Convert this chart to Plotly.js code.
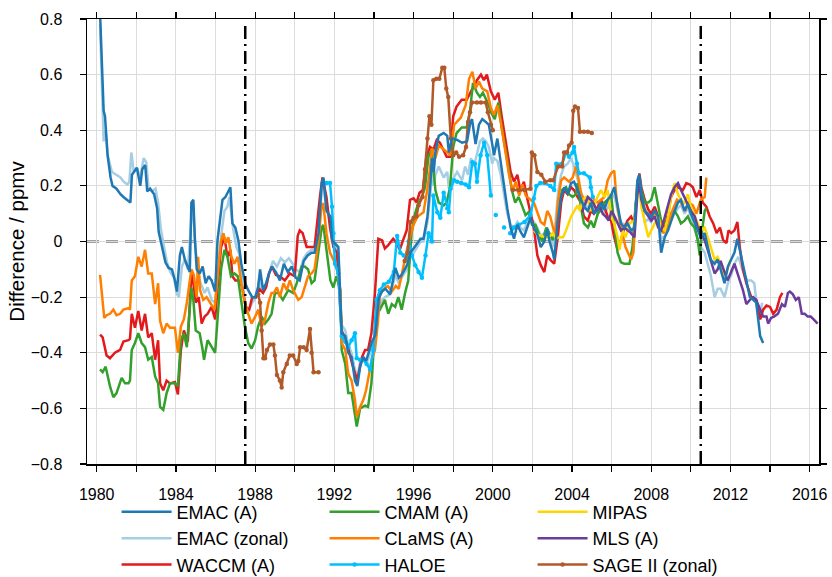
<!DOCTYPE html>
<html>
<head>
<meta charset="utf-8">
<script src="https://cdn.plot.ly/plotly-3.0.1.min.js"></script>
<style>html,body{margin:0;padding:0;background:#fff}#chart{width:832px;height:577px}</style>
</head>
<body>
<div id="chart"></div>
<script>
// ---- data (difference / ppmv) ----
const xTickVals = [1980,1982,1984,1986,1988,1990,1992,1994,1996,1998,2000,2002,2004,2006,2008,2010,2012,2014,2016];
const xTickText = ['1980','','1984','','1988','','1992','','1996','','2000','','2004','','2008','','2012','','2016'];
const yTickVals = [-0.8,-0.6,-0.4,-0.2,0,0.2,0.4,0.6,0.8];
const breakYears = [1987.5, 2010.5];

const emacA_years = [1980.17,1980.3,1980.35,1980.42,1980.55,1980.7,1980.8,1981.0,1981.2,1981.35,1981.5,1981.7,1981.78,1981.9,1982.03,1982.2,1982.3,1982.45,1982.55,1982.7,1982.9,1983.05,1983.13,1983.3,1983.47,1983.63,1983.8,1983.95,1984.05,1984.2,1984.3,1984.45,1984.6,1984.7,1984.78,1984.88,1984.96,1985.05,1985.2,1985.35,1985.5,1985.65,1985.8,1985.98,1986.1,1986.25,1986.35,1986.5,1986.65,1986.75,1986.85,1987.0,1987.15,1987.3,1987.5,1987.65,1987.85,1988.0,1988.15,1988.25,1988.4,1988.55,1988.7,1988.85,1989.05,1989.25,1989.45,1989.65,1989.85,1990.05,1990.25,1990.45,1990.65,1990.85,1991.0,1991.2,1991.36,1991.45,1991.6,1991.8,1991.88,1992.03,1992.2,1992.37,1992.55,1992.7,1992.87,1993.04,1993.16,1993.3,1993.46,1993.6,1993.73,1993.9,1994.07,1994.24,1994.4,1994.57,1994.82,1995.08,1995.25,1995.4,1995.67,1995.84,1996.1,1996.35,1996.5,1996.7,1996.85,1996.93,1997.02,1997.1,1997.27,1997.52,1997.7,1997.78,1997.94,1998.2,1998.45,1998.7,1998.87,1998.95,1999.05,1999.13,1999.3,1999.47,1999.64,1999.8,1999.97,2000.06,2000.23,2000.4,2000.56,2000.73,2000.9,2001.07,2001.24,2001.4,2001.57,2001.74,2001.9,2002.07,2002.25,2002.42,2002.6,2002.75,2002.85,2003.03,2003.1,2003.28,2003.45,2003.6,2003.78,2003.95,2004.1,2004.28,2004.45,2004.6,2004.8,2004.95,2005.1,2005.3,2005.46,2005.63,2005.8,2005.97,2006.13,2006.3,2006.47,2006.64,2006.8,2006.98,2007.15,2007.3,2007.4,2007.5,2007.67,2007.85,2008.0,2008.17,2008.35,2008.5,2008.68,2008.85,2009.0,2009.18,2009.35,2009.5,2009.68,2009.85,2010.0,2010.2,2010.35,2010.5,2010.7,2010.85,2011.0,2011.2,2011.35,2011.5,2011.7,2011.87,2012.04,2012.2,2012.35,2012.47,2012.63,2012.8,2012.98,2013.15,2013.3,2013.4,2013.5,2013.65];
const emacA_vals = [0.82,0.55,0.47,0.45,0.31,0.23,0.2,0.19,0.17,0.16,0.15,0.14,0.24,0.25,0.265,0.2,0.26,0.275,0.18,0.19,0.17,0.12,0.035,-0.02,-0.075,-0.095,-0.1,-0.14,-0.18,-0.05,-0.02,-0.065,-0.09,-0.11,0.14,0.15,0.005,-0.1,-0.115,-0.09,-0.15,-0.125,-0.14,-0.18,0.005,0.09,0.15,0.16,0.185,0.195,0.065,0.05,0.005,-0.08,-0.15,-0.175,-0.2,-0.2,-0.165,-0.1,-0.175,-0.15,-0.115,-0.09,-0.11,-0.14,-0.08,-0.11,-0.09,-0.13,-0.14,-0.07,-0.05,-0.04,-0.04,0.03,0.21,0.23,0.11,0.09,0.005,-0.005,-0.02,-0.33,-0.34,-0.4,-0.415,-0.5,-0.52,-0.45,-0.415,-0.43,-0.4,-0.36,-0.335,-0.205,-0.18,-0.17,-0.19,-0.095,-0.13,-0.12,-0.085,-0.04,-0.015,0.01,0.01,0.09,0.21,0.3,0.25,0.32,0.38,0.39,0.38,0.32,0.37,0.365,0.355,0.36,0.43,0.44,0.39,0.35,0.42,0.44,0.43,0.42,0.35,0.31,0.37,0.285,0.19,0.12,0.05,0.01,0.06,0.035,0.015,0.05,0.085,0.05,0.025,-0.02,0.0,0.045,0.005,-0.04,-0.065,0.075,0.16,0.195,0.17,0.21,0.215,0.185,0.15,0.125,0.11,0.14,0.1,0.115,0.14,0.115,0.15,0.165,0.195,0.125,0.065,0.05,0.065,0.04,0.05,0.22,0.24,0.17,0.11,0.1,0.09,0.11,0.09,-0.04,0.015,0.04,0.075,0.11,0.14,0.15,0.11,0.135,0.1,0.065,0.04,0.015,0.03,-0.02,-0.065,-0.08,-0.065,-0.1,-0.15,-0.09,-0.065,-0.04,0.01,-0.03,-0.09,-0.14,-0.2,-0.21,-0.22,-0.28,-0.34,-0.365];

const emacZ_years = [1980.17,1980.28,1980.35,1980.45,1980.55,1980.77,1981.0,1981.2,1981.36,1981.55,1981.65,1981.75,1981.87,1982.03,1982.2,1982.37,1982.5,1982.62,1982.8,1982.97,1983.1,1983.23,1983.4,1983.55,1983.72,1983.9,1984.05,1984.15,1984.3,1984.45,1984.6,1984.78,1984.87,1984.95,1985.1,1985.25,1985.45,1985.6,1985.8,1985.98,1986.12,1986.3,1986.45,1986.6,1986.7,1986.88,1987.05,1987.2,1987.35,1987.52,1987.7,1987.85,1988.05,1988.2,1988.37,1988.55,1988.7,1988.9,1989.1,1989.3,1989.5,1989.7,1989.9,1990.05,1990.25,1990.45,1990.65,1990.85,1991.0,1991.2,1991.36,1991.45,1991.6,1991.8,1991.9,1992.05,1992.2,1992.37,1992.55,1992.7,1992.87,1993.04,1993.16,1993.3,1993.46,1993.6,1993.73,1993.9,1994.07,1994.24,1994.4,1994.57,1994.82,1995.08,1995.25,1995.4,1995.67,1995.84,1996.1,1996.35,1996.5,1996.7,1996.85,1996.93,1997.02,1997.1,1997.27,1997.52,1997.7,1997.78,1997.94,1998.2,1998.45,1998.6,1998.75,1998.9,1999.05,1999.2,1999.35,1999.5,1999.65,1999.8,1999.97,2000.06,2000.23,2000.4,2000.56,2000.73,2000.9,2001.07,2001.24,2001.4,2001.57,2001.74,2001.9,2002.07,2002.25,2002.42,2002.6,2002.75,2002.9,2003.05,2003.15,2003.3,2003.45,2003.6,2003.78,2003.95,2004.1,2004.25,2004.45,2004.6,2004.8,2004.95,2005.1,2005.3,2005.46,2005.63,2005.8,2005.97,2006.13,2006.3,2006.47,2006.64,2006.8,2006.98,2007.15,2007.3,2007.4,2007.5,2007.67,2007.85,2008.0,2008.17,2008.35,2008.5,2008.68,2008.85,2009.0,2009.18,2009.35,2009.5,2009.68,2009.85,2010.0,2010.2,2010.35,2010.5,2010.7,2010.85,2011.0,2011.2,2011.35,2011.5,2011.7,2011.87,2012.04,2012.2,2012.4,2012.55,2012.7,2012.85,2013.05,2013.2,2013.35,2013.5,2013.6];
const emacZ_vals = [0.78,0.5,0.36,0.4,0.31,0.25,0.24,0.23,0.215,0.205,0.215,0.32,0.25,0.265,0.23,0.3,0.285,0.19,0.18,0.19,0.14,0.05,-0.02,-0.075,-0.11,-0.13,-0.19,-0.2,-0.09,-0.065,-0.1,0.08,0.125,0.015,-0.115,-0.15,-0.185,-0.165,-0.21,-0.22,-0.115,0.03,0.11,0.125,0.16,0.05,-0.02,-0.045,-0.14,-0.235,-0.245,-0.22,-0.2,-0.14,-0.185,-0.165,-0.115,-0.07,-0.09,-0.06,-0.075,-0.06,-0.08,-0.1,-0.11,-0.06,-0.04,-0.03,-0.03,0.02,0.18,0.2,0.12,0.07,0.0,-0.02,-0.04,-0.3,-0.32,-0.37,-0.4,-0.46,-0.49,-0.43,-0.42,-0.44,-0.42,-0.38,-0.35,-0.24,-0.21,-0.2,-0.19,-0.12,-0.15,-0.13,-0.1,-0.06,-0.03,0.0,0.0,0.07,0.17,0.25,0.2,0.24,0.27,0.23,0.25,0.19,0.22,0.25,0.22,0.27,0.24,0.3,0.27,0.32,0.36,0.37,0.36,0.34,0.28,0.3,0.29,0.24,0.17,0.1,0.06,0.05,0.07,0.05,0.04,0.07,0.09,0.07,0.05,0.02,0.03,0.05,0.02,-0.02,0.05,0.18,0.24,0.27,0.28,0.3,0.27,0.23,0.17,0.14,0.12,0.14,0.11,0.1,0.13,0.1,0.12,0.15,0.17,0.11,0.07,0.06,0.05,0.03,0.05,0.18,0.21,0.15,0.07,0.08,0.07,0.1,0.08,0.01,0.02,0.05,0.08,0.1,0.12,0.13,0.1,0.12,0.09,0.04,0.01,-0.02,-0.04,-0.08,-0.12,-0.2,-0.17,-0.17,-0.2,-0.15,-0.12,-0.08,-0.055,-0.09,-0.12,-0.14,-0.14,-0.15,-0.24,-0.26,-0.22];

const waccm_years = [1980.17,1980.3,1980.5,1980.67,1980.92,1981.18,1981.35,1981.6,1981.68,1981.77,1981.93,1982.1,1982.27,1982.44,1982.6,1982.78,1982.95,1983.1,1983.2,1983.36,1983.53,1983.7,1983.95,1984.1,1984.25,1984.4,1984.6,1984.78,1984.88,1985.0,1985.15,1985.3,1985.45,1985.6,1985.8,1985.98,1986.12,1986.28,1986.45,1986.6,1986.75,1986.85,1987.0,1987.2,1987.35,1987.52,1987.7,1987.85,1988.05,1988.2,1988.4,1988.55,1988.7,1988.85,1989.05,1989.25,1989.5,1989.75,1990.0,1990.15,1990.25,1990.4,1990.6,1990.85,1991.0,1991.27,1991.4,1991.6,1991.78,1991.95,1992.13,1992.37,1992.63,1992.9,1993.15,1993.4,1993.55,1993.7,1993.87,1994.05,1994.22,1994.4,1994.55,1994.72,1994.97,1995.15,1995.3,1995.47,1995.65,1995.82,1996.0,1996.15,1996.3,1996.47,1996.65,1996.83,1997.0,1997.17,1997.33,1997.5,1997.67,1997.84,1998.0,1998.17,1998.43,1998.68,1998.93,1999.2,1999.4,1999.55,1999.7,1999.9,2000.1,2000.28,2000.45,2000.7,2000.9,2001.07,2001.24,2001.4,2001.57,2001.74,2001.9,2002.07,2002.25,2002.42,2002.6,2002.75,2002.9,2003.1,2003.28,2003.45,2003.6,2003.78,2003.95,2004.1,2004.28,2004.45,2004.6,2004.8,2004.95,2005.1,2005.3,2005.46,2005.63,2005.8,2005.97,2006.13,2006.3,2006.47,2006.64,2006.8,2006.98,2007.15,2007.3,2007.4,2007.5,2007.67,2007.85,2008.0,2008.17,2008.35,2008.5,2008.68,2008.85,2009.0,2009.18,2009.35,2009.6,2009.77,2009.95,2010.1,2010.28,2010.45,2010.6,2010.78,2010.95,2011.13,2011.3,2011.47,2011.63,2011.8,2011.9,2012.04,2012.2,2012.35,2012.47,2012.63,2012.8,2013.05,2013.3,2013.5,2013.65,2013.82,2014.0,2014.16,2014.33,2014.5,2014.62];
const waccm_vals = [-0.335,-0.345,-0.41,-0.42,-0.4,-0.39,-0.36,-0.355,-0.35,-0.26,-0.31,-0.25,-0.32,-0.26,-0.345,-0.33,-0.425,-0.355,-0.51,-0.535,-0.5,-0.51,-0.505,-0.55,-0.39,-0.32,-0.36,-0.115,-0.15,-0.22,-0.2,-0.295,-0.27,-0.26,-0.235,-0.28,-0.15,-0.02,0.015,-0.055,-0.03,-0.125,-0.14,-0.14,-0.165,-0.235,-0.245,-0.2,-0.2,-0.17,-0.185,-0.165,-0.115,-0.09,-0.12,-0.125,-0.14,-0.115,-0.125,0.02,0.04,0.03,-0.02,-0.02,-0.02,0.16,0.23,0.16,0.05,-0.02,-0.04,-0.32,-0.365,-0.44,-0.5,-0.415,-0.39,-0.39,-0.33,-0.185,0.01,0.005,-0.025,-0.013,0.01,-0.006,-0.03,0.005,0.04,0.15,0.155,0.14,0.175,0.185,0.305,0.34,0.33,0.365,0.355,0.33,0.305,0.305,0.45,0.485,0.51,0.51,0.545,0.58,0.6,0.58,0.6,0.54,0.51,0.535,0.45,0.33,0.25,0.215,0.24,0.18,0.215,0.155,0.105,0.05,-0.05,-0.085,-0.11,-0.05,-0.065,-0.08,0.015,0.14,0.185,0.17,0.195,0.185,0.16,0.14,0.09,0.075,0.11,0.1,0.125,0.15,0.125,0.09,0.075,0.015,-0.03,0.005,0.05,0.075,0.09,0.065,0.195,0.245,0.195,0.15,0.115,0.1,0.125,0.09,0.075,0.05,0.1,0.16,0.185,0.195,0.185,0.21,0.205,0.195,0.16,0.185,0.14,0.125,0.09,0.065,0.03,0.05,0.005,-0.006,0.04,0.03,0.04,0.07,-0.02,-0.1,-0.15,-0.2,-0.21,-0.28,-0.245,-0.23,-0.235,-0.26,-0.245,-0.2,-0.185];

const cmam_years = [1980.17,1980.3,1980.45,1980.67,1980.84,1981.0,1981.26,1981.43,1981.6,1981.68,1981.77,1981.93,1982.1,1982.27,1982.44,1982.6,1982.78,1982.95,1983.1,1983.2,1983.36,1983.53,1983.7,1983.95,1984.1,1984.25,1984.4,1984.55,1984.78,1984.88,1985.0,1985.2,1985.35,1985.42,1985.6,1985.8,1985.98,1986.12,1986.28,1986.45,1986.6,1986.78,1986.95,1987.12,1987.3,1987.48,1987.65,1987.82,1988.0,1988.15,1988.33,1988.5,1988.67,1988.83,1989.0,1989.17,1989.4,1989.67,1989.92,1990.1,1990.35,1990.5,1990.67,1990.85,1991.0,1991.2,1991.36,1991.44,1991.6,1991.8,1991.95,1992.1,1992.3,1992.37,1992.55,1992.7,1992.87,1993.04,1993.13,1993.3,1993.55,1993.7,1993.87,1994.13,1994.3,1994.55,1994.72,1994.9,1995.07,1995.23,1995.4,1995.57,1995.73,1995.9,1996.07,1996.25,1996.42,1996.58,1996.75,1996.92,1997.1,1997.27,1997.52,1997.67,1997.84,1998.0,1998.17,1998.43,1998.68,1998.85,1999.0,1999.2,1999.35,1999.5,1999.67,1999.94,2000.1,2000.28,2000.45,2000.7,2000.96,2001.13,2001.3,2001.47,2001.65,2001.8,2001.98,2002.15,2002.33,2002.5,2002.7,2002.85,2003.03,2003.2,2003.35,2003.5,2003.7,2003.85,2004.03,2004.2,2004.28,2004.45,2004.6,2004.8,2004.95,2005.1,2005.3,2005.46,2005.63,2005.8,2005.97,2006.13,2006.3,2006.47,2006.64,2006.9,2007.05,2007.22,2007.4,2007.5,2007.67,2007.85,2008.0,2008.17,2008.35,2008.5,2008.68,2008.85,2009.0,2009.18,2009.35,2009.5,2009.68,2009.85,2010.0,2010.2,2010.35,2010.45,2010.55,2010.7,2010.78];
const cmam_vals = [-0.46,-0.47,-0.45,-0.52,-0.56,-0.545,-0.49,-0.51,-0.51,-0.5,-0.39,-0.365,-0.33,-0.365,-0.38,-0.425,-0.415,-0.485,-0.51,-0.595,-0.605,-0.545,-0.51,-0.51,-0.52,-0.355,-0.33,-0.38,-0.165,-0.21,-0.32,-0.33,-0.39,-0.425,-0.355,-0.38,-0.4,-0.26,-0.1,-0.03,-0.055,-0.125,-0.115,-0.125,-0.21,-0.305,-0.365,-0.385,-0.355,-0.305,-0.27,-0.295,-0.28,-0.26,-0.185,-0.185,-0.21,-0.175,-0.185,-0.15,-0.09,-0.09,-0.1,-0.15,-0.14,-0.03,0.05,0.06,-0.03,-0.14,-0.165,-0.125,-0.175,-0.39,-0.44,-0.545,-0.545,-0.615,-0.665,-0.6,-0.59,-0.595,-0.51,-0.235,-0.245,-0.21,-0.26,-0.225,-0.235,-0.2,-0.245,-0.185,-0.14,0.03,0.1,0.14,0.16,0.195,0.305,0.33,0.185,0.14,0.13,0.14,0.195,0.34,0.39,0.41,0.41,0.47,0.57,0.535,0.52,0.535,0.51,0.46,0.44,0.5,0.41,0.305,0.185,0.14,0.16,0.13,0.095,0.105,0.06,0.06,0.025,0.0,0.05,0.03,0.005,0.04,0.14,0.185,0.195,0.17,0.16,0.17,0.21,0.125,0.065,0.05,0.075,0.05,0.1,0.115,0.14,0.15,0.17,0.065,-0.04,-0.075,-0.08,-0.08,-0.02,0.14,0.23,0.185,0.14,0.14,0.15,0.195,0.125,0.075,0.065,0.05,0.1,0.11,0.09,0.065,0.075,0.09,0.065,0.05,0.005,-0.05,0.03,0.11,0.12];

const clams_years = [1980.17,1980.28,1980.38,1980.5,1980.67,1980.84,1981.0,1981.18,1981.35,1981.6,1981.68,1981.77,1981.93,1982.1,1982.27,1982.44,1982.6,1982.78,1982.95,1983.1,1983.2,1983.36,1983.53,1983.7,1983.95,1984.1,1984.25,1984.4,1984.55,1984.78,1984.9,1985.05,1985.12,1985.22,1985.38,1985.55,1985.72,1985.95,1986.12,1986.28,1986.4,1986.5,1986.65,1986.8,1986.95,1987.12,1987.3,1987.48,1987.65,1987.82,1988.0,1988.16,1988.33,1988.5,1988.67,1988.83,1988.95,1989.1,1989.25,1989.43,1989.6,1989.75,1989.92,1990.18,1990.35,1990.5,1990.67,1990.85,1991.0,1991.2,1991.36,1991.44,1991.6,1991.78,1991.95,1992.13,1992.3,1992.37,1992.55,1992.7,1992.87,1993.04,1993.13,1993.3,1993.46,1993.6,1993.75,1993.9,1994.05,1994.2,1994.3,1994.5,1994.7,1994.9,1995.1,1995.25,1995.4,1995.6,1995.75,1996.0,1996.2,1996.5,1996.7,1996.85,1996.93,1997.1,1997.27,1997.45,1997.7,1997.87,1998.05,1998.2,1998.38,1998.63,1998.8,1998.97,1999.13,1999.3,1999.47,1999.72,1999.9,2000.06,2000.23,2000.4,2000.65,2000.82,2001.0,2001.16,2001.33,2001.5,2001.66,2001.83,2002.07,2002.25,2002.42,2002.6,2002.75,2002.9,2003.05,2003.15,2003.3,2003.45,2003.6,2003.85,2004.03,2004.2,2004.28,2004.45,2004.6,2004.8,2004.95,2005.1,2005.3,2005.46,2005.63,2005.8,2005.97,2006.13,2006.25,2006.4,2006.55,2006.7,2006.98,2007.1,2007.3,2007.45,2007.6,2007.8,2008.0,2008.2,2008.4,2008.6,2008.85,2009.0,2009.3,2009.5,2009.7,2009.9,2010.1,2010.28,2010.5,2010.7,2010.78];
const clams_vals = [-0.12,-0.21,-0.275,-0.265,-0.26,-0.245,-0.265,-0.26,-0.245,-0.24,-0.245,-0.14,-0.125,-0.055,-0.09,-0.03,-0.115,-0.115,-0.225,-0.15,-0.285,-0.33,-0.295,-0.31,-0.31,-0.4,-0.305,-0.28,-0.22,-0.1,-0.12,-0.2,-0.055,-0.175,-0.21,-0.2,-0.22,-0.245,-0.115,0.005,0.03,-0.006,0.015,-0.055,-0.08,-0.055,-0.15,-0.22,-0.26,-0.295,-0.27,-0.245,-0.305,-0.28,-0.22,-0.185,-0.185,-0.165,-0.2,-0.15,-0.175,-0.14,-0.175,-0.21,-0.2,-0.165,-0.125,-0.115,-0.1,0.005,0.135,0.135,0.03,-0.04,-0.065,-0.1,-0.175,-0.365,-0.39,-0.475,-0.5,-0.57,-0.63,-0.595,-0.57,-0.535,-0.475,-0.42,-0.39,-0.29,-0.19,-0.17,-0.16,-0.18,-0.16,-0.17,-0.12,-0.05,0.0,0.06,0.09,0.105,0.19,0.275,0.335,0.3,0.345,0.335,0.32,0.31,0.42,0.43,0.445,0.49,0.585,0.61,0.55,0.575,0.55,0.54,0.48,0.455,0.49,0.43,0.31,0.24,0.18,0.215,0.165,0.205,0.165,0.155,0.14,0.105,0.07,0.06,0.11,0.09,0.05,0.02,0.15,0.22,0.23,0.215,0.23,0.27,0.245,0.175,0.15,0.15,0.11,0.15,0.14,0.15,0.16,0.22,0.245,0.255,0.15,0.075,0.03,-0.02,-0.065,-0.04,0.22,0.17,0.13,0.1,0.09,0.1,0.08,0.03,0.05,0.1,0.15,0.14,0.11,0.14,0.13,0.1,0.15,0.16,0.23];

const haloe_years = [1991.6,1991.78,1991.88,1991.95,1992.03,1992.2,1992.37,1992.55,1992.7,1992.87,1993.04,1993.13,1993.3,1993.46,1993.63,1993.8,1993.97,1994.13,1994.3,1994.5,1994.75,1995.0,1995.17,1995.33,1995.5,1995.67,1995.75,1995.92,1996.08,1996.25,1996.42,1996.6,1996.76,1996.93,1997.0,1997.2,1997.35,1997.52,1997.7,1997.78,1997.87,1998.05,1998.2,1998.4,1998.63,1998.8,1998.97,1999.1,1999.2,1999.38,1999.56,1999.72,1999.9,1999.95,2000.15,2000.3,2000.57,2000.7,2000.88,2001.07,2001.3,2001.6,2001.9,2002.07,2002.2,2002.4,2002.6,2002.9,2003.1,2003.2,2003.5,2003.7,2003.85,2004.03,2004.1,2004.25,2004.35,2004.6,2004.9,2004.95,2005.05];
const haloe_vals = [0.21,0.21,0.125,0.03,-0.08,-0.115,-0.34,-0.36,-0.38,-0.355,-0.33,-0.42,-0.425,-0.425,-0.44,-0.46,-0.39,-0.21,-0.175,-0.155,-0.145,-0.11,0.02,-0.04,-0.05,-0.06,0.0,-0.05,-0.085,-0.11,-0.13,-0.05,0.03,0.0,0.165,0.105,0.085,0.175,0.12,0.105,0.19,0.22,0.215,0.21,0.205,0.195,0.285,0.28,0.215,0.31,0.355,0.31,0.165,null,0.095,null,0.05,null,0.03,0.05,0.06,0.07,0.095,0.155,0.2,0.21,0.21,0.2,0.185,0.28,0.28,0.32,0.305,0.32,0.34,0.28,0.245,0.245,0.23,0.195,0.16];

const mipas_years = [2002.07,2002.25,2002.45,2002.7,2002.9,2003.03,2003.2,2003.35,2003.55,2003.7,2003.95,2004.1,2004.28,2004.4,2004.55,2004.7,2004.85,2004.95,2005.2,2005.46,2005.63,2005.8,2005.97,2006.13,2006.3,2006.4,2006.55,2006.7,2006.9,2007.15,2007.3,2007.4,2007.5,2007.67,2007.85,2008.0,2008.17,2008.35,2008.5,2008.68,2008.85,2009.0,2009.18,2009.35,2009.5,2009.68,2009.85,2010.0,2010.2,2010.35,2010.5,2010.7,2010.85,2011.0,2011.2,2011.35,2011.5,2011.7,2011.85,2012.0];
const mipas_vals = [0.04,0.025,0.02,0.015,0.02,0.03,0.01,0.015,0.015,0.04,0.09,0.11,0.13,0.11,0.15,0.16,0.14,0.11,0.15,0.185,0.16,0.185,0.09,0.065,0.015,-0.03,0.04,0.015,0.065,0.075,0.17,0.185,0.125,0.075,0.015,0.04,0.065,0.09,0.05,0.04,0.09,0.16,0.21,0.17,0.15,0.135,0.17,0.125,0.09,0.065,0.04,0.05,0.015,-0.02,-0.065,-0.055,-0.08,-0.125,-0.1,-0.065];

const mls_years = [2004.5,2004.65,2004.8,2004.95,2005.1,2005.25,2005.4,2005.55,2005.7,2005.85,2006.0,2006.15,2006.3,2006.47,2006.64,2006.8,2006.98,2007.15,2007.3,2007.4,2007.5,2007.67,2007.85,2008.0,2008.17,2008.35,2008.5,2008.68,2008.85,2009.0,2009.18,2009.35,2009.5,2009.68,2009.85,2010.0,2010.2,2010.35,2010.5,2010.7,2010.85,2011.0,2011.2,2011.35,2011.5,2011.7,2011.85,2012.0,2012.2,2012.47,2012.63,2012.8,2012.98,2013.15,2013.3,2013.5,2013.65,2013.82,2013.9,2014.05,2014.2,2014.4,2014.6,2014.75,2014.9,2015.0,2015.15,2015.3,2015.45,2015.6,2015.75,2015.9,2016.05,2016.2,2016.4];
const mls_vals = [0.105,0.135,0.16,0.15,0.135,0.11,0.125,0.1,0.09,0.075,0.11,0.09,0.065,0.04,0.05,0.04,0.03,0.015,0.17,0.21,0.15,0.11,0.09,0.075,0.09,0.05,0.04,0.09,0.135,0.17,0.195,0.21,0.185,0.16,0.135,0.11,0.09,0.05,0.03,0.005,-0.03,-0.065,-0.115,-0.1,-0.07,-0.11,-0.14,-0.115,-0.08,-0.14,-0.175,-0.225,-0.21,-0.2,-0.21,-0.245,-0.27,-0.27,-0.295,-0.275,-0.27,-0.26,-0.225,-0.235,-0.185,-0.18,-0.19,-0.21,-0.2,-0.26,-0.26,-0.27,-0.27,-0.28,-0.295];

const sage_years = [1988.15,1988.25,1988.33,1988.42,1988.5,1988.6,1988.75,1988.92,1989.0,1989.1,1989.25,1989.34,1989.42,1989.6,1989.75,1989.92,1990.1,1990.18,1990.27,1990.45,1990.6,1990.77,1990.85,1990.95,1991.2,1993.0,1995.55,1995.7,1995.84,1996.0,1996.15,1996.25,1996.45,1996.58,1996.7,1996.8,1996.9,1997.0,1997.15,1997.3,1997.45,1997.55,1997.65,1997.75,1997.88,1998.0,1998.15,1998.3,1998.5,1998.65,1998.75,1998.85,1998.95,1999.2,1999.4,1999.64,1999.75,1999.9,2000.0,2000.5,2001.0,2001.3,2001.6,2001.9,2001.97,2002.1,2002.25,2002.45,2002.65,2002.9,2003.05,2003.3,2003.5,2003.6,2003.75,2003.85,2003.98,2004.06,2004.15,2004.3,2004.4,2004.6,2004.8,2005.0];
const sage_vals = [-0.19,-0.22,-0.32,-0.42,-0.42,-0.39,-0.37,-0.37,-0.41,-0.48,-0.5,-0.525,-0.47,-0.44,-0.41,-0.41,-0.44,-0.43,-0.38,-0.38,-0.39,-0.315,-0.4,-0.47,-0.47,null,-0.07,-0.04,0.07,0.085,0.09,0.13,0.16,0.26,0.37,0.45,0.42,0.58,0.585,0.585,0.625,0.625,0.55,0.52,0.37,0.31,0.32,0.305,0.31,0.34,0.43,0.465,0.5,0.5,0.5,0.5,0.465,0.42,0.4,null,0.185,0.185,0.185,0.19,0.32,0.31,0.25,0.24,0.215,0.22,0.22,0.27,0.27,0.32,0.32,0.345,0.355,0.47,0.485,0.48,0.395,0.395,0.395,0.39];

// ---- series styling ----
const series = [
  {name:'EMAC (zonal)', x:emacZ_years, y:emacZ_vals, color:'#a6cee3', rank:4},
  {name:'WACCM (A)', x:waccm_years, y:waccm_vals, color:'#e31a1c', rank:7},
  {name:'CMAM (A)', x:cmam_years, y:cmam_vals, color:'#33a02c', rank:2},
  {name:'CLaMS (A)', x:clams_years, y:clams_vals, color:'#ff7f00', rank:5},
  {name:'HALOE', x:haloe_years, y:haloe_vals, color:'#00bfff', rank:8, markers:true},
  {name:'MIPAS', x:mipas_years, y:mipas_vals, color:'#ffd700', rank:3},
  {name:'MLS (A)', x:mls_years, y:mls_vals, color:'#6a3d9a', rank:6},
  {name:'SAGE II (zonal)', x:sage_years, y:sage_vals, color:'#b15928', rank:9, markers:true},
  {name:'EMAC (A)', x:emacA_years, y:emacA_vals, color:'#1f78b4', rank:1}
];

const traces = series.map(s => {
  const t = {
    type:'scatter',
    mode: s.markers ? 'lines+markers' : 'lines',
    name:s.name, x:s.x, y:s.y,
    line:{color:s.color, width:2.5},
    legendrank:s.rank,
    connectgaps:false,
    hoverinfo:'skip'
  };
  if (s.markers) t.marker = {color:s.color, size:4.5};
  return t;
});

const font = 'Liberation Sans, Arial, Helvetica, sans-serif';
const shapes = [
  {type:'line', xref:'paper', x0:0, x1:1, yref:'y', y0:0, y1:0, layer:'below',
   line:{color:'#3f3f3f', width:2.2, dash:'12px,7px'}}
].concat(breakYears.map(yr => ({
  type:'line', xref:'x', x0:yr, x1:yr, yref:'y', y0:-0.8, y1:0.775, layer:'above',
  line:{color:'#000000', width:2.5, dash:'13px,5px,2px,5px'}
})));

const layout = {
  width:832, height:577,
  margin:{l:87, r:13, t:19, b:113},
  paper_bgcolor:'#ffffff', plot_bgcolor:'#ffffff',
  font:{family:font, size:16, color:'#000'},
  showlegend:true,
  xaxis:{
    range:[1979.51, 2016.47], tickmode:'array', tickvals:xTickVals, ticktext:xTickText,
    showgrid:true, gridcolor:'#dcdcdc', gridwidth:1, zeroline:false,
    showline:true, linecolor:'#000', linewidth:1.5, mirror:'ticks',
    ticks:'outside', ticklen:6, tickwidth:1.2, tickcolor:'#000',
    tickfont:{size:16, family:font}, ticklabelstandoff:9, automargin:false
  },
  yaxis:{
    range:[-0.8, 0.8], tickmode:'array', tickvals:yTickVals,
    showgrid:true, gridcolor:'#dcdcdc', gridwidth:1, zeroline:false,
    showline:true, linecolor:'#000', linewidth:1.5, mirror:'ticks',
    ticks:'outside', ticklen:6, tickwidth:1.2, tickcolor:'#000',
    tickfont:{size:16, family:font}, ticklabelstandoff:14, automargin:false,
    title:{text:'Difference / ppmv', font:{size:20.5, family:font}, standoff:0}
  },
  legend:{
    orientation:'h', xref:'paper', x:0.0404, xanchor:'left',
    yref:'container', y:0.1445, yanchor:'top',
    font:{size:18, family:font}, itemwidth:50, entrywidth:143, entrywidthmode:'pixels',
    bgcolor:'rgba(0,0,0,0)', traceorder:'normal'
  },
  shapes:shapes
};

Plotly.newPlot('chart', traces, layout, {staticPlot:true, displayModeBar:false});
</script>
</body>
</html>
